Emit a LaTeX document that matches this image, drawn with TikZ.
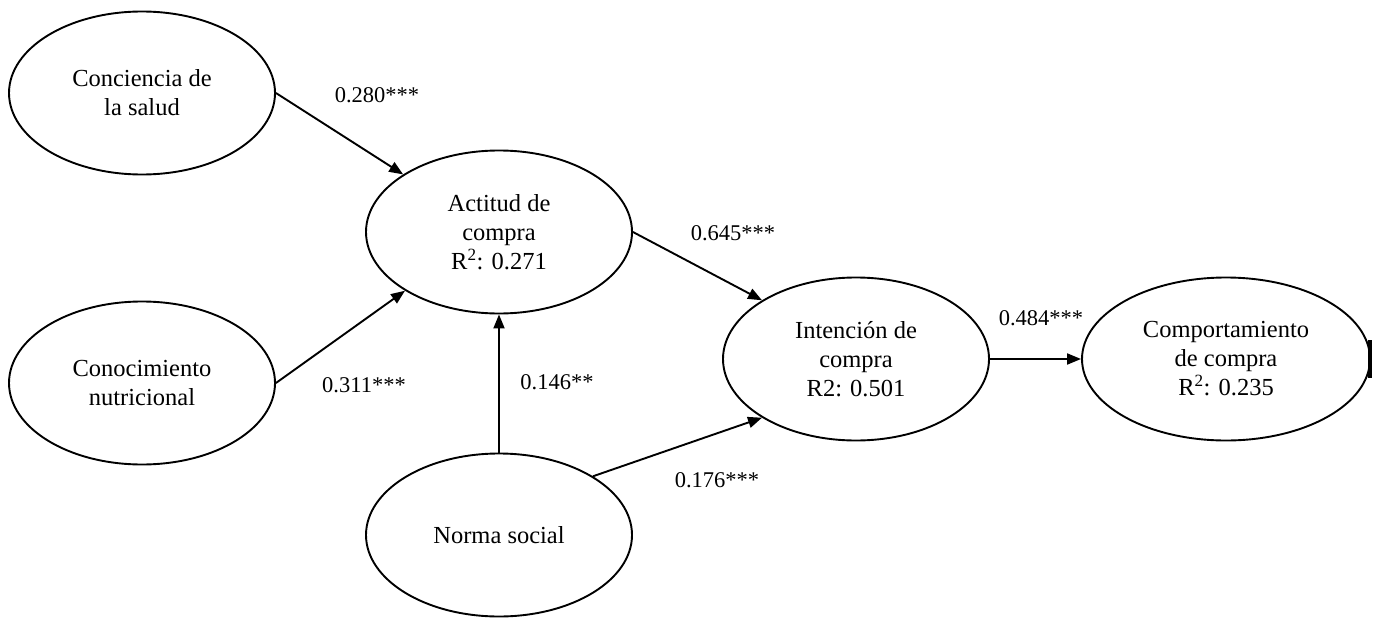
\documentclass[tikz,border=0pt]{standalone}
\usepackage{fontspec}
\setmainfont{Liberation Serif}
\usetikzlibrary{shapes.geometric,arrows.meta}
\begin{document}
\begin{tikzpicture}[x=1pt,y=-1pt,
  lv/.style={draw=black, line width=1.9pt, ellipse, minimum width=266pt, minimum height=163pt,
             inner sep=0pt, align=center, font=\fontsize{24.5}{29}\selectfont},
  conn/.style={line width=1.9pt, -{Triangle[length=14pt,width=11pt]}},
  coef/.style={font=\fontsize{22.5}{27}\selectfont, inner sep=0pt}]
\useasboundingbox (0,0) rectangle (1378,618);
\fill[white] (0,0) rectangle (1378,618);

\node[lv] (cs) at (142,93) {Conciencia de\\la salud};
\node[lv] (cn) at (142,383) {Conocimiento\\nutricional};
\node[lv] (ac) at (499,232) {Actitud de\\compra\\R\textsuperscript{2}: 0.271};
\node[lv] (ns) at (499,535) {Norma social};
\node[lv] (ic) at (856,359) {Intención de\\compra\\R2: 0.501};
\node[lv, minimum width=288pt] (cc) at (1226,359) {Comportamiento\\de compra\\R\textsuperscript{2}: 0.235};

\draw[conn] (cs.east) -- (ac.149);
\draw[conn] (cn.east) -- (ac.212);
\draw[conn] (ns.north) -- (ac.south);
\draw[conn] (ac.east) -- (ic.148);
\draw[conn] (ns.32) -- (ic.212);
\draw[conn] (ic.east) -- (cc.west);

\coordinate (m1) at (1370,340);
\coordinate (m2) at (1370,378);
\draw[line width=4pt] (m1) -- (m2);

\node[coef] (l1) at (377,95) {0.280***};
\node[coef] (l2) at (364,385) {0.311***};
\node[coef] (l3) at (557,382) {0.146**};
\node[coef] (l4) at (733,233) {0.645***};
\node[coef] (l5) at (717,480) {0.176***};
\node[coef] (l6) at (1041,318) {0.484***};
\end{tikzpicture}
\end{document}
